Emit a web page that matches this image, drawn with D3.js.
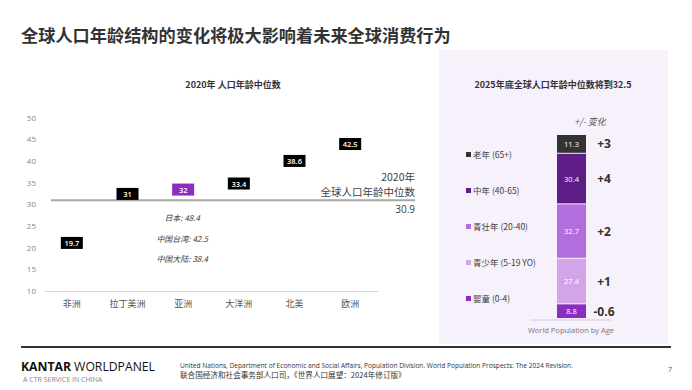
<!DOCTYPE html>
<html><head><meta charset="utf-8">
<script src="https://cdn.jsdelivr.net/npm/d3@7"></script>
<style>
html,body{margin:0;padding:0;background:#fff;}
svg{display:block;font-family:"Noto Sans","Noto Sans CJK SC",sans-serif;}
</style></head>
<body>
<svg id="c" width="692" height="390"></svg>
<script>
// ---- data ----
const regions = ['非洲','拉丁美洲','亚洲','大洋洲','北美','欧洲'];
const medianAge2020 = [19.7, 31, 32, 33.4, 38.6, 42.5];
const highlightRegion = '亚洲';
const yTicks = [10, 15, 20, 25, 30, 35, 40, 45, 50];
const globalMedian2020 = 30.9;
const asiaNotes = ['日本: 48.4', '中国台湾: 42.5', '中国大陆: 38.4'];

const ageGroups = ['老年 (65+)', '中年 (40-65)', '青壮年 (20-40)', '青少年 (5-19 YO)', '婴童 (0-4)'];
const ageShares = [11.3, 30.4, 32.7, 27.4, 8.8];
const ageChanges = ['+3', '+4', '+2', '+1', '-0.6'];
const ageColors = ['#333333', '#5e1c87', '#b06fdc', '#d2a5e8', '#8a2dc0'];

const svg = d3.select('#c');
const CJK = '"Noto Sans CJK SC","Noto Sans",sans-serif';

// ---- title ----
svg.append('text').attr('x', 21).attr('y', 42)
  .attr('font-size', 17.2).attr('font-weight', 700).attr('fill', '#333')
  .attr('font-family', CJK)
  .text('全球人口年龄结构的变化将极大影响着未来全球消费行为');

// ---- left chart ----
const x = d3.scaleBand().domain(regions).range([44, 378]);
const y = d3.scaleLinear().domain([10, 50]).range([291, 117.5]);

svg.append('text').attr('x', 233).attr('y', 88).attr('text-anchor', 'middle')
  .attr('font-size', 9).attr('font-weight', 700).attr('fill', '#333').attr('font-family', CJK)
  .text('2020年 人口年龄中位数');

const yAxis = svg.append('g').attr('transform', 'translate(36,0)')
  .call(d3.axisLeft(y).tickValues(yTicks).tickSize(0).tickPadding(0));
yAxis.select('.domain').remove();
yAxis.selectAll('text').attr('font-size', 8).attr('fill', '#888').attr('font-family', '"Open Sans",sans-serif');

const xAxis = svg.append('g').attr('transform', 'translate(0,291)')
  .call(d3.axisBottom(x).tickSize(0).tickPadding(10));
xAxis.select('.domain').attr('stroke', '#d9d9d9');
xAxis.selectAll('text').attr('font-size', 9).attr('fill', '#555').attr('font-family', CJK);

// reference line
svg.append('line').attr('x1', 51).attr('x2', 415)
  .attr('y1', y(globalMedian2020)).attr('y2', y(globalMedian2020))
  .attr('stroke', '#a6a6a6').attr('stroke-width', 2);
const refLbl = svg.append('g').attr('font-family', CJK).attr('font-size', 10.5).attr('fill', '#404040').attr('text-anchor', 'end');
refLbl.append('text').attr('x', 415).attr('y', y(globalMedian2020) - 19.5).text('2020年');
refLbl.append('text').attr('x', 415).attr('y', y(globalMedian2020) - 4).text('全球人口年龄中位数');
refLbl.append('text').attr('x', 415).attr('y', y(globalMedian2020) + 13).attr('font-family', '"Open Sans",sans-serif').attr('font-size', 10).text(globalMedian2020);

// value boxes
const pts = svg.append('g').selectAll('g').data(regions).join('g')
  .attr('transform', (d, i) => `translate(${x(d) + x.bandwidth() / 2},${y(medianAge2020[i])})`);
pts.append('rect').attr('x', -11).attr('y', -12).attr('width', 22).attr('height', 12)
  .attr('fill', d => d === highlightRegion ? '#8a2dc0' : '#000');
pts.append('text').attr('y', -3).attr('text-anchor', 'middle')
  .attr('font-size', 7.5).attr('font-weight', 600).attr('fill', '#fff')
  .attr('font-family', '"Open Sans",sans-serif')
  .text((d, i) => medianAge2020[i]);

// asia notes
const nx = x(highlightRegion) + x.bandwidth() / 2 - 1;
svg.append('g').selectAll('text').data(asiaNotes).join('text')
  .attr('x', nx).attr('y', (d, i) => 221 + i * 20.5)
  .attr('text-anchor', 'middle').attr('font-size', 8).attr('font-style', 'italic')
  .attr('fill', '#404040').attr('font-family', CJK)
  .text(d => d);

// ---- right panel ----
svg.append('rect').attr('x', 439).attr('y', 50).attr('width', 229).attr('height', 294).attr('fill', '#f6f1fb');
svg.append('text').attr('x', 553).attr('y', 88).attr('text-anchor', 'middle')
  .attr('font-size', 9).attr('font-weight', 700).attr('fill', '#333').attr('font-family', CJK)
  .text('2025年底全球人口年龄中位数将到32.5');
svg.append('text').attr('x', 590).attr('y', 125).attr('text-anchor', 'middle')
  .attr('font-size', 9).attr('font-style', 'italic').attr('fill', '#555').attr('font-family', CJK)
  .text('+/- 变化');

const total = d3.sum(ageShares);
const ys = d3.scaleLinear().domain([0, total]).range([319, 135]);
const stackData = [];
let acc = 0;
for (let i = ageShares.length - 1; i >= 0; i--) {
  stackData.push({i, y0: acc, y1: acc + ageShares[i]});
  acc += ageShares[i];
}
const bx = 557, bw = 29;
const seg = svg.append('g').selectAll('g').data(stackData).join('g');
seg.append('rect').attr('x', bx).attr('width', bw)
  .attr('y', d => ys(d.y1)).attr('height', d => ys(d.y0) - ys(d.y1) - 1)
  .attr('fill', d => ageColors[d.i]);
seg.append('text').attr('x', bx + bw / 2).attr('y', d => (ys(d.y0) + ys(d.y1)) / 2 + 2.5)
  .attr('text-anchor', 'middle').attr('font-size', 7.5).attr('fill', '#fff')
  .attr('font-family', '"Open Sans",sans-serif')
  .text(d => ageShares[d.i]);
seg.append('text').attr('x', 604).attr('y', d => (ys(d.y0) + ys(d.y1)) / 2 + 4)
  .attr('text-anchor', 'middle').attr('font-size', 12).attr('font-weight', 700).attr('fill', '#333')
  .attr('font-family', '"Open Sans",sans-serif')
  .text(d => ageChanges[d.i]);

svg.append('line').attr('x1', 530).attr('x2', 611).attr('y1', 320).attr('y2', 320)
  .attr('stroke', '#d0d0d0').attr('stroke-width', 1);
svg.append('text').attr('x', 571).attr('y', 333).attr('text-anchor', 'middle')
  .attr('font-size', 7.5).attr('fill', '#777').attr('font-family', '"Open Sans",sans-serif')
  .text('World Population by Age');

// legend
const leg = svg.append('g').selectAll('g').data(ageGroups).join('g')
  .attr('transform', (d, i) => `translate(466,${155 + i * 36})`);
leg.append('rect').attr('x', 0).attr('y', -3).attr('width', 5).attr('height', 5)
  .attr('fill', (d, i) => ageColors[i]);
leg.append('text').attr('x', 7).attr('y', 2.5).attr('font-size', 8.5).attr('fill', '#404040')
  .attr('font-family', CJK).text(d => d);

// ---- footer ----
svg.append('line').attr('x1', 21).attr('x2', 671).attr('y1', 347).attr('y2', 347)
  .attr('stroke', '#333').attr('stroke-width', 2);
const brand = svg.append('text').attr('x', 21).attr('y', 371).attr('font-size', 12.5).attr('fill', '#111')
  .attr('font-family', '"Open Sans",sans-serif').attr('textLength', 134).attr('lengthAdjust', 'spacingAndGlyphs');
brand.append('tspan').attr('font-weight', 700).text('KANTAR');
brand.append('tspan').attr('font-weight', 400).text(' WORLDPANEL');
svg.append('text').attr('x', 23).attr('y', 382).attr('font-size', 7).attr('fill', '#888')
  .attr('font-family', '"Open Sans",sans-serif').text('A CTR SERVICE IN CHINA');
svg.append('text').attr('x', 180).attr('y', 368).attr('font-size', 6.6).attr('fill', '#333')
  .attr('font-family', '"Open Sans",sans-serif')
  .text('United Nations, Department of Economic and Social Affairs, Population Division. World Population Prospects: The 2024 Revision.');
svg.append('text').attr('x', 180).attr('y', 377.5).attr('font-size', 7.6).attr('fill', '#333')
  .attr('font-family', CJK)
  .text('联合国经济和社会事务部人口司，《世界人口展望：2024年修订版》');
svg.append('text').attr('x', 668).attr('y', 372).attr('font-size', 7).attr('fill', '#555')
  .attr('font-family', '"Open Sans",sans-serif').text('7');
</script>
</body></html>
